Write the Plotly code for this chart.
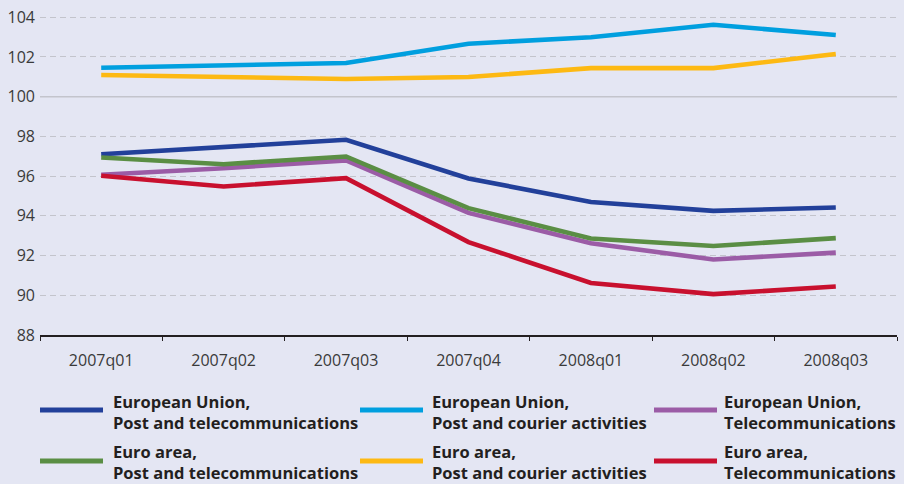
import plotly.graph_objects as go

# quarters and index values
quarters = ["2007q01", "2007q02", "2007q03", "2007q04", "2008q01", "2008q02", "2008q03"]

eu_post_tel = [97.10, 97.45, 97.83, 95.88, 94.70, 94.25, 94.42]
eu_post_courier = [101.46, 101.60, 101.70, 102.67, 102.99, 103.62, 103.11]
eu_tel = [96.07, 96.40, 96.79, 94.15, 92.62, 91.80, 92.15]
ea_post_tel = [96.94, 96.60, 96.99, 94.39, 92.86, 92.48, 92.88]
ea_post_courier = [101.09, 100.99, 100.89, 100.99, 101.44, 101.44, 102.15]
ea_tel = [96.02, 95.48, 95.90, 92.68, 90.62, 90.06, 90.44]

names = [
    "European Union,<br>Post and telecommunications",
    "European Union,<br>Post and courier activities",
    "European Union,<br>Telecommunications",
    "Euro area,<br>Post and telecommunications",
    "Euro area,<br>Post and courier activities",
    "Euro area,<br>Telecommunications",
]
series = [eu_post_tel, eu_post_courier, eu_tel, ea_post_tel, ea_post_courier, ea_tel]
colors = ["#22409a", "#009fdf", "#9b5ca6", "#5a8e44", "#fdb913", "#c8102e"]

BG = "#e4e6f3"
GRID = "#c3c4cc"
INK = "#231f20"

fig = go.Figure()
for name, vals, col in zip(names, series, colors):
    fig.add_trace(go.Scatter(
        x=quarters, y=vals, name=name, mode="lines",
        line=dict(color=col, width=4.6),
        showlegend=False,
    ))

# plot area in pixels, used to place the hand-made legend below it
L, R, T, B = 40, 7, 0, 149
W, H = 904, 484
pw, ph = W - L - R, H - T - B

def px_x(px):
    return (px - L) / pw

def px_y(py):
    return (ph + T - py) / ph

# legend: 3 columns x 2 rows, long line swatches as in the original
col_line_x = [40, 360, 654]
col_text_x = [111, 430, 722]
row_line_y = [410, 461]
row_text_y = [412, 462]
for i, (name, col) in enumerate(zip(names, colors)):
    r, c = divmod(i, 3)
    fig.add_shape(type="line", xref="paper", yref="paper",
                  x0=px_x(col_line_x[c]), x1=px_x(col_line_x[c] + 63),
                  y0=px_y(row_line_y[r]), y1=px_y(row_line_y[r]),
                  line=dict(color=col, width=5))
    fig.add_annotation(xref="paper", yref="paper",
                       x=px_x(col_text_x[c]), y=px_y(row_text_y[r]),
                       xanchor="left", yanchor="middle", align="left",
                       showarrow=False, text="<b>" + name + "</b>",
                       font=dict(family="Open Sans", size=16.5, color=INK))

# solid reference line at 100
fig.add_shape(type="line", xref="paper", yref="y", x0=0, x1=1, y0=100, y1=100,
              line=dict(color=GRID, width=1.6), layer="below")

fig.update_layout(
    width=W, height=H,
    margin=dict(l=L, r=R, t=T, b=B),
    paper_bgcolor=BG, plot_bgcolor=BG,
    font=dict(family="Open Sans", size=16, color="#3a3a3a"),
    showlegend=False,
    xaxis=dict(
        showgrid=False, showline=True, linecolor=INK, linewidth=2,
        ticks="outside", tickson="boundaries", ticklen=4, tickcolor=INK,
        tickwidth=1, tickfont=dict(size=16, color="#3a3a3a"),
        ticklabelstandoff=10,
        range=[-0.5, 6.5], fixedrange=True, automargin=False,
    ),
    yaxis=dict(
        range=[88, 104.87], tickvals=[88, 90, 92, 94, 96, 98, 100, 102, 104],
        showgrid=True, gridcolor=GRID, gridwidth=1.3, griddash="6px,4px",
        zeroline=False, showline=False, ticks="", automargin=False,
        ticklabelstandoff=4, tickfont=dict(size=16, color="#3a3a3a"),
    ),
)

# drop the browser's default 8px page margin so the figure fills the window
fig.write_html("out.html", config={"displayModeBar": False},
               post_script="document.body.style.margin='0px';")
